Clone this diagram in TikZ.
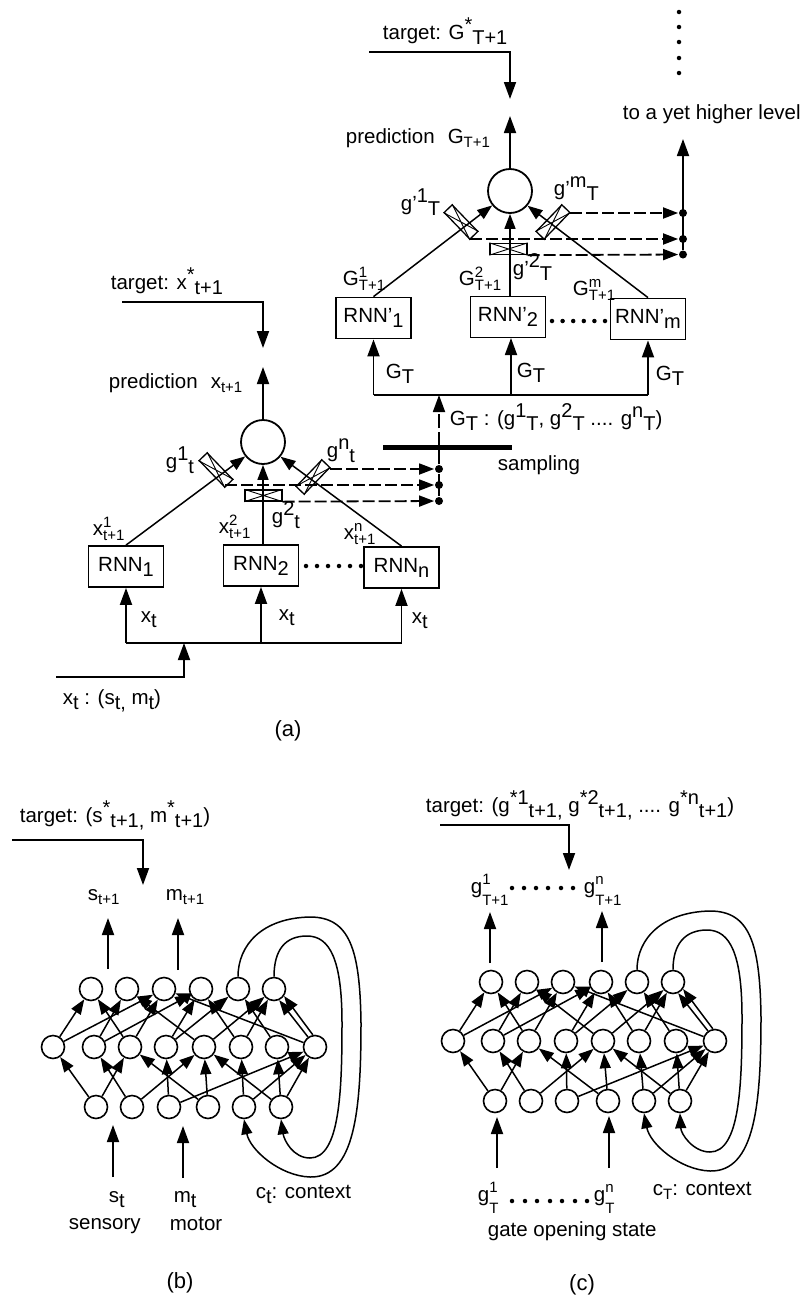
\documentclass[tikz,border=0pt]{standalone}
\usepackage{fontspec}
\setmainfont{Liberation Sans}
\usetikzlibrary{arrows.meta}

\newcommand{\subT}[1]{\raisebox{-5pt}{\fontsize{20}{20}\selectfont #1}}
\newcommand{\supT}[1]{\raisebox{8pt}{\fontsize{20}{20}\selectfont #1}}
\newcommand{\subS}[1]{\raisebox{-4pt}{\fontsize{15}{15}\selectfont #1}}
\newcommand{\bothT}[2]{\rlap{\raisebox{8pt}{\fontsize{15}{15}\selectfont #1}}\raisebox{-5pt}{\fontsize{15}{15}\selectfont #2}}
\newcommand{\bothG}[2]{\rlap{\raisebox{9pt}{\fontsize{15}{15}\selectfont #1}}\raisebox{-12pt}{\fontsize{15}{15}\selectfont #2}}

\begin{document}
\begin{tikzpicture}[
  x=1pt,y=-1pt,
  line width=1.8pt,
  font=\fontsize{20.5}{23}\selectfont,
  rnn/.style={rectangle,draw,minimum width=75pt,minimum height=41pt,inner sep=0pt},
  sum/.style={circle,draw,minimum size=44pt,inner sep=0pt},
  gate/.style={rectangle,draw,line width=1.3pt,minimum width=37pt,minimum height=11pt,inner sep=0pt},
  cross/.style={line width=0.9pt},
  cell/.style={circle,draw,line width=1.6pt,minimum size=23pt,inner sep=0pt},
  junction/.style={circle,fill,minimum size=8pt,inner sep=0pt},
  dotsm/.style={circle,fill,minimum size=4.5pt,inner sep=0pt},
  lab/.style={anchor=base west,inner sep=0pt},
  arr/.style={-{Triangle[length=17pt,width=12pt]}},
  gatearr/.style={-{Triangle[length=15pt,width=11pt]},dash pattern=on 12pt off 4pt},
  netarr/.style={-{Triangle[length=15pt,width=11pt]},line width=1.5pt}
]
\useasboundingbox (0,0) rectangle (806,1304);

%%%%%%%%%%%%%%%%%%%%%%%%%%%%%%%%%%%%%%%%%%%%%%%%%%%%
% (a) lower level
%%%%%%%%%%%%%%%%%%%%%%%%%%%%%%%%%%%%%%%%%%%%%%%%%%%%
\node[sum] (Lsum) at (263,442) {};
\node[rnn] (Lrnn1) at (126,566.5) {RNN\subT{1}};
\node[rnn] (Lrnn2) at (261,565.5) {RNN\subT{2}};
\node[rnn] (Lrnn3) at (401.5,567.5) {RNN\subT{n}};
\node[gate,rotate=-46] (Lgate1) at (216,470) {};
\node[gate] (Lgate2) at (263.5,495.5) {};
\node[gate,rotate=46] (Lgate3) at (313,477) {};

\node[junction] (Ljun1) at (439,469) {};
\node[junction] (Ljun2) at (439,485) {};
\node[junction] (Ljun3) at (439,501) {};

\coordinate (Ltin) at (122,302);
\coordinate (Ltout) at (263,348);
\coordinate (Lpred) at (263,367);
\coordinate (Lrnn2top) at (263,545);
\coordinate (Lbus1) at (126,643);
\coordinate (Lbus2) at (261,643);
\coordinate (Lbus3) at (401.5,643);
\coordinate (Lin) at (56,677);
\coordinate (Lup) at (184,643);
\coordinate (Lg1end) at (225,485);
\coordinate (Lg3end) at (330,469);

\draw[arr] (Ltin) -| (Ltout);
\draw[arr] (Lsum) -- (Lpred);
\draw[netarr] (Lrnn1.north) -- (Lsum.219);
\draw[netarr] (Lrnn2top) -- (Lsum.south);
\draw[netarr] (Lrnn3.north) -- (Lsum.-40);
\draw (Lbus1) -- (Lbus3);
\draw[arr] (Lbus1) -- (Lrnn1.south);
\draw[arr] (Lbus2) -- (Lrnn2.south);
\draw[arr] (Lbus3) -- (Lrnn3.south);
\draw[arr] (Lin) -| (Lup);
\draw[gatearr] (Lg3end) -- (Ljun1);
\draw[gatearr] (Lg1end) -- (Ljun2);
\draw[gatearr] (Lgate2.south east) -- (Ljun3);
\draw (Ljun1) -- (Ljun3);

\foreach \i in {306,317,328,339,350,361} \node[dotsm] (Ldot\i) at (\i,566) {};

\node[lab] (Ltarget) at (110,289) {target: x\supT{*}\subT{t+1}};
\node[lab] (Lprediction) at (108,388) {prediction\hspace{13pt}x\subS{t+1}};
\node[lab] (Lg1) at (165,468) {g\supT{1}\subT{t}};
\node[lab] (Lg2) at (271,523) {g\supT{2}\subT{t}};
\node[lab] (Lg3) at (326,457) {g\supT{n}\subT{t}};
\node[lab] (Lx1) at (92,535) {x\bothT{1}{t+1}};
\node[lab] (Lx2) at (218,533) {x\bothT{2}{t+1}};
\node[lab] (Lx3) at (343,539) {x\bothT{n}{t+1}};
\node[lab] (Lin1) at (140,622) {x\subT{t}};
\node[lab] (Lin2) at (278,620) {x\subT{t}};
\node[lab] (Lin3) at (411,623) {x\subT{t}};
\node[lab] (Linput) at (62,704) {x\subT{t} : (s\subT{t,} m\subT{t})};
\node (Acap) at (288,731) {\fontsize{22}{24}\selectfont (a)};

%%%%%%%%%%%%%%%%%%%%%%%%%%%%%%%%%%%%%%%%%%%%%%%%%%%%
% (a) higher level
%%%%%%%%%%%%%%%%%%%%%%%%%%%%%%%%%%%%%%%%%%%%%%%%%%%%
\node[sum] (Usum) at (510,191) {};
\node[rnn] (Urnn1) at (373.5,318) {RNN'\subT{1}};
\node[rnn] (Urnn2) at (508,317) {RNN'\subT{2}};
\node[rnn] (Urnn3) at (648,319) {RNN'\subT{m}};
\node[gate,rotate=-46] (Ugate1) at (461,222) {};
\node[gate] (Ugate2) at (508.5,249) {};
\node[gate,rotate=46] (Ugate3) at (553,222) {};

\node[junction] (Ujun1) at (683,213) {};
\node[junction] (Ujun2) at (683,239) {};
\node[junction] (Ujun3) at (683,254.5) {};

\foreach \g in {Lgate1,Lgate2,Lgate3,Ugate1,Ugate2,Ugate3}
  \draw[cross] (\g.north west) -- (\g.south east) (\g.south west) -- (\g.north east);

\coordinate (Utin) at (369,52);
\coordinate (Utout) at (510,99);
\coordinate (Upred) at (510,116);
\coordinate (Urnn2top) at (510,296);
\coordinate (Urnn2bot) at (511,338);
\coordinate (Ubus1) at (373.5,395);
\coordinate (Ubus2) at (511,395);
\coordinate (Ubus3) at (648,395);
\coordinate (Ubusin) at (439,395);
\coordinate (Ulevel) at (683,139);
\coordinate (Ug1end) at (470,239);
\coordinate (Ug3end) at (570,213);

\draw[arr] (Utin) -| (Utout);
\draw[arr] (Usum) -- (Upred);
\draw[netarr] (Urnn1.north) -- (Usum.219);
\draw[netarr] (Urnn2top) -- (Usum.south);
\draw[netarr] (Urnn3.north) -- (Usum.-40);
\draw (Ubus1) -- (Ubus3);
\draw[arr] (Ubus1) -- (Urnn1.south);
\draw[arr] (Ubus2) -- (Urnn2bot);
\draw[arr] (Ubus3) -- (Urnn3.south);
\draw[gatearr] (Ug3end) -- (Ujun1);
\draw[gatearr] (Ug1end) -- (Ujun2);
\draw[gatearr] (Ugate2.south east) -- (Ujun3);
\draw[arr] (Ujun3) -- (Ulevel);

% sampling between the levels
\draw[line width=5pt] (383,447) -- (512,447);
\draw[arr,dash pattern=on 14pt off 4pt] (Ljun1) -- (Ubusin);

\foreach \i in {552,562.6,573.2,583.8,594.4,605} \node[dotsm] (Udot\i) at (\i,321) {};
\foreach \i in {12,27,42,58,73} \node[dotsm] (Vdot\i) at (679,\i) {};

\node[lab] (Utarget) at (382,39) {target: G\supT{*}\subT{T+1}};
\node[lab] (Uprediction) at (345,143) {prediction\hspace{13pt}G\subS{T+1}};
\node[lab] (Uhigher) at (622,119) {to a yet higher level};
\node[lab] (Ug1) at (400,210) {g'\supT{1}\subT{T}};
\node[lab] (Ug2) at (512,275) {g'\supT{2}\subT{T}};
\node[lab] (Ug3) at (553,195) {g'\supT{m}\subT{T}};
\node[lab] (Ux1) at (342,285) {G\bothT{1}{T+1}};
\node[lab] (Ux2) at (458,285) {G\bothT{2}{T+1}};
\node[lab] (Ux3) at (572,295) {G\bothT{m}{T+1}};
\node[lab] (Uin1) at (385,378) {G\subT{T}};
\node[lab] (Uin2) at (516,377) {G\subT{T}};
\node[lab] (Uin3) at (655,380) {G\subT{T}};
\node[lab] (Uinput) at (449,425) {G\subT{T} : (g\supT{1}\subT{T}, g\supT{2}\subT{T} .... g\supT{n}\subT{T})};
\node[lab] (Usampling) at (497,470) {sampling};

%%%%%%%%%%%%%%%%%%%%%%%%%%%%%%%%%%%%%%%%%%%%%%%%%%%%
% (b) sensory-motor network
%%%%%%%%%%%%%%%%%%%%%%%%%%%%%%%%%%%%%%%%%%%%%%%%%%%%
\foreach \n/\x in {1/91,2/127,3/164,4/201,5/238,6/274} \node[cell] (BT\n) at (\x,989) {};
\foreach \n/\x in {1/53,2/94,3/130,4/166,5/204,6/241,7/277,8/315} \node[cell] (BM\n) at (\x,1047) {};
\foreach \n/\x in {1/96,2/132,3/169,4/208,5/244,6/281} \node[cell] (BB\n) at (\x,1107) {};

\foreach \a/\b in {1/1,1/3,2/2,2/4,3/1,3/3,4/4,4/5,5/2,5/6,6/4,6/6,7/5,8/3}
  \draw[netarr] (BM\a) -- (BT\b);
\draw[netarr] (BM8.100) -- (BT6.-35);
\draw[netarr] (BM8.125) -- (BT6.-65);
\foreach \a/\b in {1/1,1/3,2/2,2/5,3/4,3/8,4/3,4/5,5/6,5/8,6/5,6/7,6/8}
  \draw[netarr] (BB\a) -- (BM\b);

\draw[netarr] (BT5.north) .. controls (238,945) and (262,918) .. (310,917)
  .. controls (350,917) and (360,950) .. (361,1023)
  .. controls (361,1110) and (355,1178) .. (310,1177)
  .. controls (280,1176) and (250,1150) .. (BB5.south);
\draw[netarr] (BT6.north) .. controls (274,950) and (285,936) .. (307,936)
  .. controls (330,936) and (342,960) .. (342,1023)
  .. controls (342,1090) and (340,1158) .. (310,1158)
  .. controls (293,1158) and (284,1140) .. (BB6.south);

\coordinate (Btin) at (12,840);
\coordinate (Btout) at (143,885);
\coordinate (Bs1) at (108,969);
\coordinate (Bs2) at (108,918);
\coordinate (Bm1) at (178,970);
\coordinate (Bm2) at (178,918);
\coordinate (Bs3) at (113,1177);
\coordinate (Bs4) at (113,1125);
\coordinate (Bm3) at (183,1178);
\coordinate (Bm4) at (183,1126);
\draw[arr] (Btin) -| (Btout);
\draw[arr] (Bs1) -- (Bs2);
\draw[arr] (Bm1) -- (Bm2);
\draw[arr] (Bs3) -- (Bs4);
\draw[arr] (Bm3) -- (Bm4);

\node[lab] (Btarget) at (19,822) {target: (s\supT{*}\subT{t+1,} m\supT{*}\subT{t+1})};
\node[lab] (Bsout) at (87,900) {s\subS{t+1}};
\node[lab] (Bmout) at (165,900) {m\subS{t+1}};
\node[lab] (Bsin) at (108,1202) {s\subT{t}};
\node[lab] (Bmin) at (173,1202) {m\subT{t}};
\node[lab] (Bsensory) at (68,1229) {sensory};
\node[lab] (Bmotor) at (169,1230) {motor};
\node[lab] (Bcontext) at (255,1198) {c\subT{t}: context};
\node (Bcap) at (180,1283) {\fontsize{22}{24}\selectfont (b)};

%%%%%%%%%%%%%%%%%%%%%%%%%%%%%%%%%%%%%%%%%%%%%%%%%%%%
% (c) gate opening network
%%%%%%%%%%%%%%%%%%%%%%%%%%%%%%%%%%%%%%%%%%%%%%%%%%%%
\foreach \n/\x in {1/491,2/527,3/563,4/601,5/637,6/673} \node[cell] (CT\n) at (\x,982) {};
\foreach \n/\x in {1/453,2/493,3/529,4/566,5/603,6/639,7/676,8/715} \node[cell] (CM\n) at (\x,1041) {};
\foreach \n/\x in {1/495,2/531,3/567,4/608,5/644,6/680} \node[cell] (CB\n) at (\x,1101) {};

\foreach \a/\b in {1/1,1/3,2/2,2/4,3/1,3/3,4/4,4/5,5/2,5/6,6/4,6/6,7/5,8/3}
  \draw[netarr] (CM\a) -- (CT\b);
\draw[netarr] (CM8.100) -- (CT6.-35);
\draw[netarr] (CM8.125) -- (CT6.-65);
\foreach \a/\b in {1/1,1/3,2/2,2/5,3/4,3/8,4/3,4/5,5/6,5/8,6/5,6/7,6/8}
  \draw[netarr] (CB\a) -- (CM\b);

\draw[netarr] (CT5.north) .. controls (637,939) and (662,912) .. (710,911)
  .. controls (750,911) and (760,944) .. (761,1017)
  .. controls (761,1104) and (755,1172) .. (710,1171)
  .. controls (680,1170) and (650,1144) .. (CB5.south);
\draw[netarr] (CT6.north) .. controls (673,944) and (685,930) .. (707,930)
  .. controls (730,930) and (742,954) .. (742,1017)
  .. controls (742,1084) and (740,1152) .. (710,1152)
  .. controls (693,1152) and (681,1134) .. (CB6.south);

\coordinate (Ctin) at (440,825);
\coordinate (Ctout) at (569,870);
\coordinate (Cg1) at (490,963);
\coordinate (Cg2) at (490,912);
\coordinate (Cg3) at (602,962);
\coordinate (Cg4) at (602,911);
\coordinate (Cg5) at (497,1168);
\coordinate (Cg6) at (497,1117);
\coordinate (Cg7) at (609,1168);
\coordinate (Cg8) at (609,1116);
\draw[arr] (Ctin) -| (Ctout);
\draw[arr] (Cg1) -- (Cg2);
\draw[arr] (Cg3) -- (Cg4);
\draw[arr] (Cg5) -- (Cg6);
\draw[arr] (Cg7) -- (Cg8);

\foreach \i in {512,524,536,548,561,573} \node[dotsm] (Cdot\i) at (\i,888) {};
\foreach \i in {512,525,537,550,562,575,587} \node[dotsm] (Ddot\i) at (\i,1201) {};

\node[lab] (Ctarget) at (425,812) {target: (g\supT{*1}\subT{t+1,} g\supT{*2}\subT{t+1,} .... g\supT{*n}\subT{t+1})};
\node[lab] (Cout1) at (470,893) {g\bothG{1}{T+1}};
\node[lab] (Cout2) at (583,893) {g\bothG{n}{T+1}};
\node[lab] (Cin1) at (477,1201) {g\bothG{1}{T}};
\node[lab] (Cin2) at (593,1201) {g\bothG{n}{T}};
\node[lab] (Cstate) at (487,1236) {gate opening state};
\node[lab] (Ccontext) at (652,1195) {c\subS{T}: context};
\node (Ccap) at (582,1285) {\fontsize{22}{24}\selectfont (c)};
\end{tikzpicture}
\end{document}
